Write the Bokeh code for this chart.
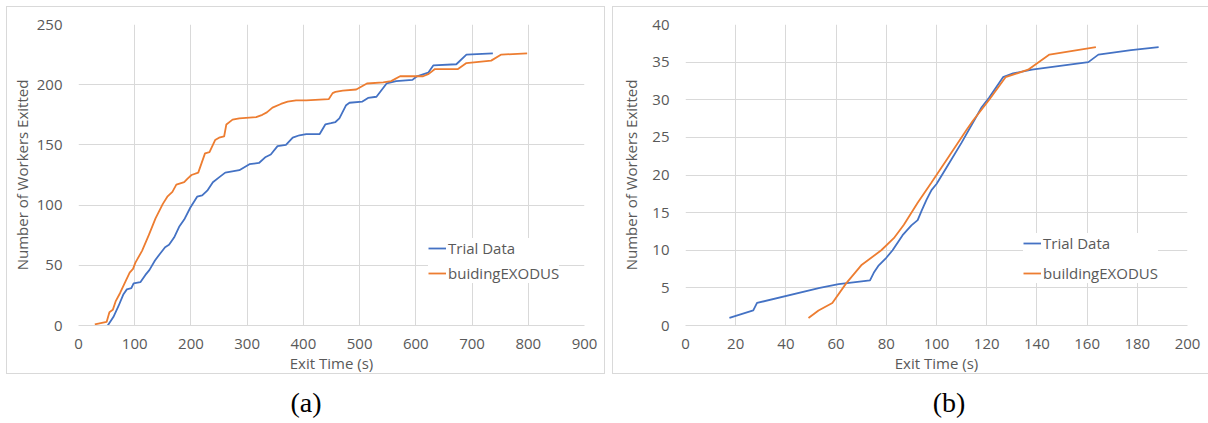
from bokeh.plotting import figure
from bokeh.layouts import row, column
from bokeh.models import Legend, LegendItem, SingleIntervalTicker, Range1d, Div
from bokeh.embed import file_html
from bokeh.resources import INLINE

# ---------------- data ----------------
a_trial_x = [52, 62, 71, 80, 86, 94, 98, 110, 119, 126, 136, 144, 154, 161, 170, 179, 188, 199, 211, 220,
             229, 239, 250, 261, 286, 304, 321, 333, 342, 354, 369, 381, 393, 405, 429, 439, 449, 457,
             464, 476, 482, 505, 515, 530, 548, 565, 594, 602, 622, 631, 672, 690, 737]
a_trial_y = [0, 7, 16, 26, 30, 31, 35, 36, 42, 46, 54, 59, 65, 67, 73, 82, 88, 98, 107, 108,
             112, 119, 123, 127, 129, 134, 135, 140, 142, 149, 150, 156, 158, 159, 159, 167, 168, 169,
             172, 183, 185, 186, 189, 190, 201, 203, 204, 207, 210, 216, 217, 225, 226]
a_exo_x = [29, 50, 55, 61, 66, 74, 83, 91, 97, 101, 113, 125, 137, 150, 158, 167, 174, 188, 194, 201,
           213, 225, 233, 243, 250, 259, 263, 274, 286, 316, 327, 335, 345, 360, 372, 387, 405, 445,
           452, 457, 470, 494, 513, 542, 556, 572, 613, 623, 634, 675, 690, 734, 752, 798]
a_exo_y = [1, 3, 11, 13, 20, 27, 36, 44, 47, 52, 62, 75, 89, 101, 107, 111, 117, 119, 122, 125,
           127, 143, 144, 154, 156, 157, 167, 171, 172, 173, 175, 177, 181, 184, 186, 187, 187, 188,
           193, 194, 195, 196, 201, 202, 203, 207, 207, 209, 213, 213, 218, 220, 225, 226]

b_trial_x = [17.5, 27, 28.5, 53.5, 61, 73.5, 75, 77, 80, 82.5, 86.5, 90, 92.5, 94, 96, 98, 100, 104,
             110, 118, 121, 126.5, 130.5, 138, 160.5, 164.5, 177.5, 188.5]
b_trial_y = [1, 2, 3, 5, 5.5, 6, 7, 8, 9, 10, 12, 13.3, 14, 15.2, 16.7, 18, 18.8, 21,
             24.3, 29, 30.3, 33, 33.5, 34, 35, 36, 36.6, 37]
b_exo_x = [49, 53, 58.5, 64, 70, 78, 83, 87, 92.5, 98, 102, 104, 112, 114.5, 121, 127.5, 136.5, 145, 163.5]
b_exo_y = [1, 2, 3, 5.6, 8, 10, 11.6, 13.4, 16.3, 19, 21, 22, 26, 27.2, 30, 33, 34, 36, 37]

x_label = "Exit Time (s)"
y_label = "Number of Workers Exitted"
a_labels = ["Trial Data", "buidingEXODUS"]
b_labels = ["Trial Data", "buildingEXODUS"]
captions = ["(a)", "(b)"]

BLUE = "#4472C4"
ORANGE = "#ED7D31"
GRID = "#d9d9d9"
TXT = "#595959"
FONT = "Open Sans"


def make_panel(w, h, xr, yr, xstep, ystep, mb, series, labels, leg_loc, leg_spacing, ylab_standoff):
    p = figure(width=w, height=h, output_backend="svg", toolbar_location=None,
               x_range=Range1d(*xr), y_range=Range1d(*yr),
               min_border_left=mb[0], min_border_right=mb[1],
               min_border_top=mb[2], min_border_bottom=mb[3])
    p.outline_line_color = None
    p.background_fill_color = "white"
    p.border_fill_color = "white"
    p.xaxis.ticker = SingleIntervalTicker(interval=xstep)
    p.yaxis.ticker = SingleIntervalTicker(interval=ystep)
    p.xgrid.ticker = SingleIntervalTicker(interval=xstep)
    p.ygrid.ticker = SingleIntervalTicker(interval=ystep)
    for g in (p.xgrid, p.ygrid):
        g.grid_line_color = GRID
        g.grid_line_width = 1
    for ax in (p.xaxis, p.yaxis):
        ax.major_tick_line_color = None
        ax.minor_tick_line_color = None
        ax.major_tick_out = 0
        ax.major_tick_in = 0
        ax.minor_tick_out = 0
        ax.major_label_text_font = FONT
        ax.major_label_text_font_size = "15px"
        ax.major_label_text_color = TXT
        ax.axis_label_text_font = FONT
        ax.axis_label_text_font_size = "15px"
        ax.axis_label_text_color = TXT
        ax.axis_label_text_font_style = "normal"
    p.xaxis.axis_line_color = GRID
    p.yaxis.axis_line_color = None
    p.xaxis.axis_label = x_label
    p.yaxis.axis_label = y_label
    p.xaxis.major_label_standoff = 13
    p.xaxis.axis_label_standoff = 1
    p.yaxis.major_label_standoff = 16
    p.yaxis.axis_label_standoff = ylab_standoff

    items = []
    for (xs, ys, col), lab in zip(series, labels):
        r = p.line(xs, ys, line_color=col, line_width=1.8)
        items.append(LegendItem(label=lab, renderers=[r]))
    leg = Legend(items=items, location=leg_loc, orientation="vertical",
                 label_text_font=FONT, label_text_font_size="15px", label_text_color=TXT,
                 glyph_width=18, glyph_height=20, label_height=20, label_standoff=2,
                 spacing=leg_spacing, padding=6, margin=0,
                 border_line_color=None, background_fill_color="white", background_fill_alpha=1.0)
    p.add_layout(leg, "center")
    return p


p1 = make_panel(599, 368, (0, 900), (0, 250), 100, 50, (71, 22, 17, 50),
                [(a_trial_x, a_trial_y, BLUE), (a_exo_x, a_exo_y, ORANGE)],
                a_labels, (350, 42), 5, 2)
p2 = make_panel(596, 368, (0, 200), (0, 40), 20, 5, (72, 22, 16, 50),
                [(b_trial_x, b_trial_y, BLUE), (b_exo_x, b_exo_y, ORANGE)],
                b_labels, (338, 42), 10, 8)

p1.margin = (6, 0, 0, 6)
p2.margin = (6, 0, 0, 7)
p1.styles = {"border": "1px solid #d9d9d9", "box-sizing": "border-box"}
p2.styles = {"border": "1px solid #d9d9d9", "border-right": "none", "box-sizing": "border-box"}

cap_html = (
    '<div style="font-family:\'Liberation Serif\'; font-size:28px; color:#000; line-height:1; padding-top:15px; white-space:nowrap;">'
    '<span style="display:inline-block; width:612px; text-align:center;">%s</span>'
    '<span style="display:inline-block; width:674px; text-align:center;">%s</span>'
    '</div>' % (captions[0], captions[1])
)
cap = Div(text=cap_html, width=1208, height=49, margin=0)

layout = column(row(p1, p2, spacing=0), cap, spacing=0)

with open("out.html", "w") as f:
    f.write(file_html(layout, INLINE))
